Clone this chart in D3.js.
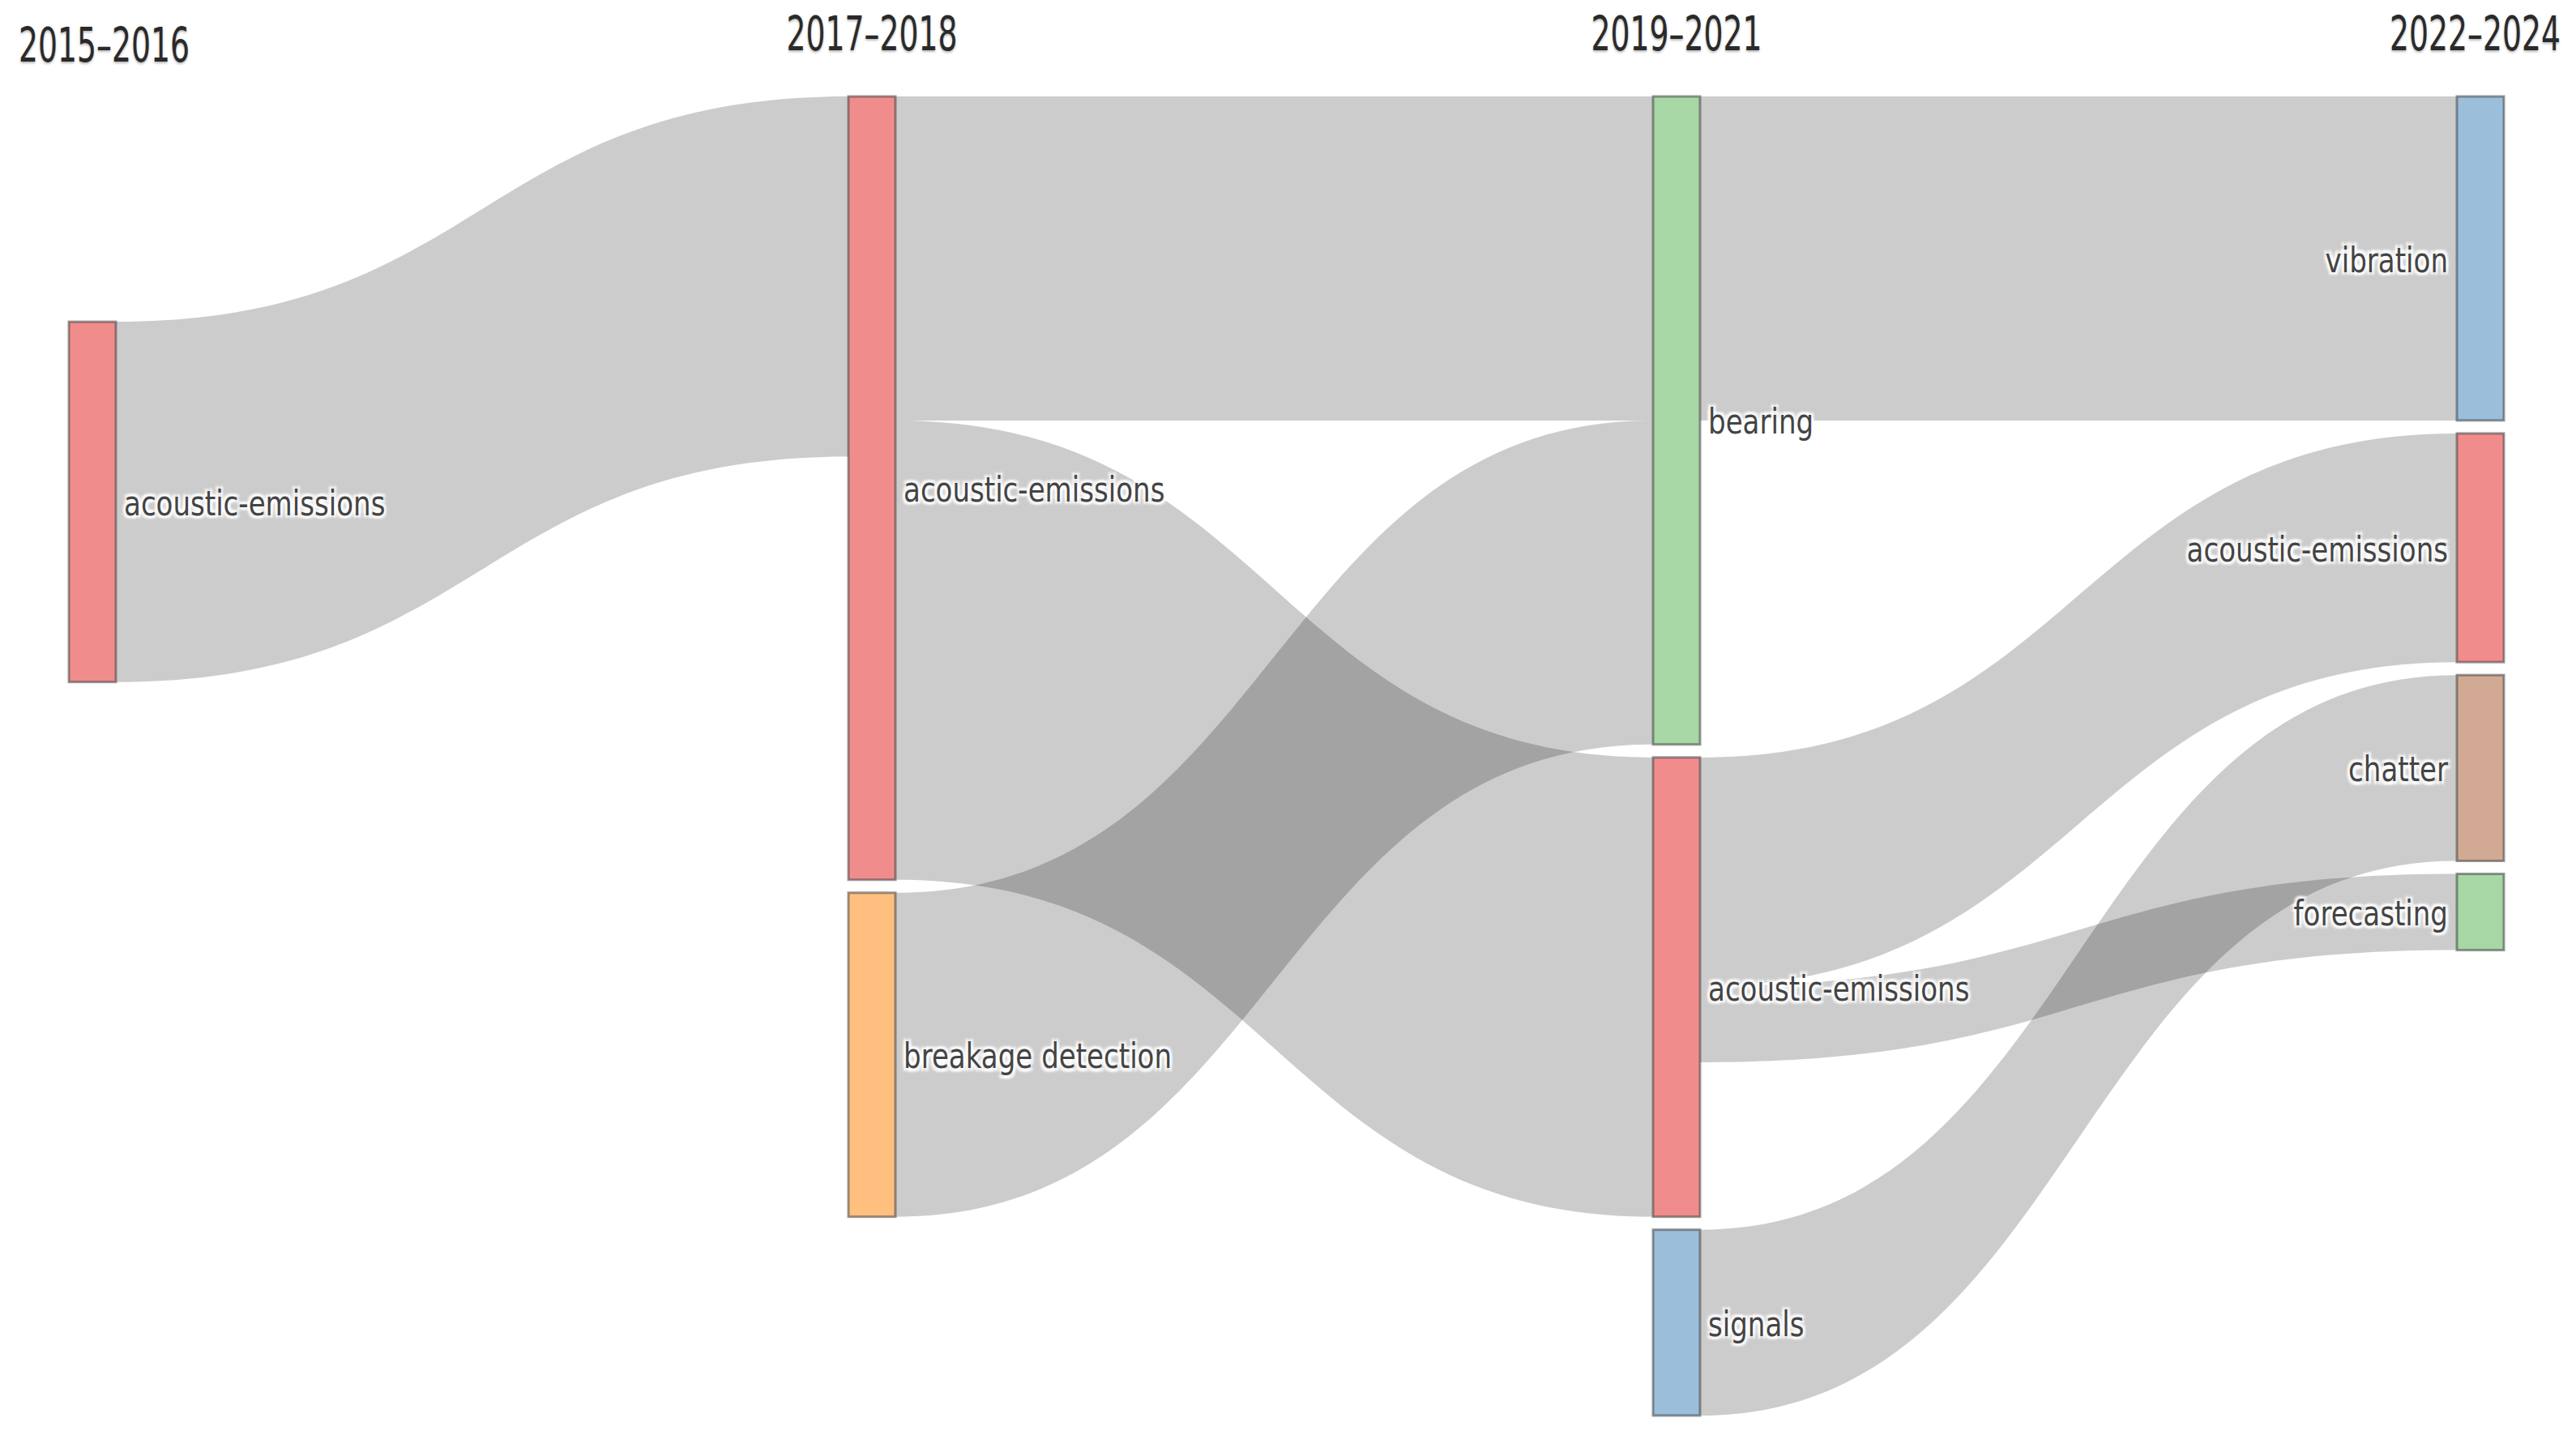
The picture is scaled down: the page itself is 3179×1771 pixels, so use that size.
<!DOCTYPE html>
<html>
<head>
<meta charset="utf-8">
<script src="https://cdn.jsdelivr.net/npm/d3@7"></script>
<style>
  html, body { margin: 0; padding: 0; background: #fff; }
  svg { display: block; }
  .lbl {
    font-family: "DejaVu Sans", sans-serif;
    fill: #444;
    text-shadow: 3px 3px 3px #fff, -3px -3px 3px #fff, 3px -3px 3px #fff, -3px 3px 3px #fff, 0 0 4px #fff;
  }
  .hdr {
    font-family: "DejaVu Sans", sans-serif;
    fill: #2a2a2a;
    text-shadow: 0 2px 3px rgba(0,0,0,0.28);
  }
</style>
</head>
<body>
<svg id="chart" width="3179" height="1771"></svg>
<script>
// ---------------- data ----------------
const periods     = ["2015–2016", "2017–2018", "2019–2021", "2022–2024"];
const nodeNames   = ["acoustic-emissions", "acoustic-emissions", "breakage detection",
                     "bearing", "acoustic-emissions", "signals",
                     "vibration", "acoustic-emissions", "chatter", "forecasting"];
const nodeColumns = [0, 1, 1, 2, 2, 2, 3, 3, 3, 3];
const nodeColors  = ["rgba(228,26,28,0.5)", "rgba(228,26,28,0.5)", "rgba(255,127,0,0.5)",
                     "rgba(77,175,74,0.5)", "rgba(228,26,28,0.5)", "rgba(55,126,184,0.5)",
                     "rgba(55,126,184,0.5)", "rgba(228,26,28,0.5)", "rgba(166,86,40,0.5)", "rgba(77,175,74,0.5)"];
const linkSources = [0, 1, 1, 2, 3, 4, 4, 5];
const linkTargets = [1, 3, 4, 3, 6, 7, 9, 8];
const linkValues  = [18.9, 17, 24.1, 17, 17, 12, 4, 9.75];

// ---------------- layout ----------------
const W = 3179, H = 1771;
const yTop = 119, yBottom = 1747;
const nodeW = 58, pad = 16;
const colX = d3.scaleOrdinal().domain([0, 1, 2, 3]).range([85, 1047, 2040, 3032]);

const nodes = nodeNames.map((name, i) => ({
  i, name, col: nodeColumns[i], color: nodeColors[i], sourceLinks: [], targetLinks: []
}));
const links = linkValues.map((v, i) => ({
  source: nodes[linkSources[i]], target: nodes[linkTargets[i]], value: v
}));
links.forEach(l => { l.source.sourceLinks.push(l); l.target.targetLinks.push(l); });
nodes.forEach(n => {
  n.value = Math.max(d3.sum(n.sourceLinks, l => l.value), d3.sum(n.targetLinks, l => l.value));
});

const columns = d3.groups(nodes, n => n.col).sort((a, b) => a[0] - b[0]).map(d => d[1]);
const ratio = d3.min(columns, col => (yBottom - yTop - (col.length - 1) * pad) / d3.sum(col, n => n.value));
const vScale = d3.scaleLinear().domain([0, 1]).range([0, ratio]);

columns.forEach(col => {
  let y = yTop;
  col.forEach(n => {
    n.y0 = y; n.y1 = y + vScale(n.value); y = n.y1 + pad;
  });
});

function assignLinkOffsets() {
  nodes.forEach(n => {
    n.sourceLinks.sort((a, b) => a.target.y0 - b.target.y0);
    n.targetLinks.sort((a, b) => a.source.y0 - b.source.y0);
    let y = n.y0;
    n.sourceLinks.forEach(l => { l.sy0 = y; y += vScale(l.value); l.sy1 = y; });
    y = n.y0;
    n.targetLinks.forEach(l => { l.ty0 = y; y += vScale(l.value); l.ty1 = y; });
  });
}
assignLinkOffsets();

columns[0].forEach(n => {
  const h = n.y1 - n.y0;
  const aligned = d3.sum(n.sourceLinks, l => l.ty0 * l.value) / d3.sum(n.sourceLinks, l => l.value);
  const centred = yTop + (yBottom - yTop - h) / 2;
  n.y0 = aligned + (centred - aligned) * 0.47;
  n.y1 = n.y0 + h;
});
assignLinkOffsets();

nodes.forEach(n => { n.x0 = colX(n.col); n.x1 = n.x0 + nodeW; });

// ---------------- drawing ----------------
const svg = d3.select("#chart");

function linkPath(l) {
  const x0 = l.source.x1, x1 = l.target.x0;
  const xi = d3.interpolateNumber(x0, x1);
  const xc0 = xi(0.5), xc1 = xi(0.5);
  const p = d3.path();
  p.moveTo(x0, l.sy0);
  p.bezierCurveTo(xc0, l.sy0, xc1, l.ty0, x1, l.ty0);
  p.lineTo(x1, l.ty1);
  p.bezierCurveTo(xc1, l.ty1, xc0, l.sy1, x0, l.sy1);
  p.closePath();
  return p.toString();
}

svg.append("g")
  .selectAll("path")
  .data(links)
  .join("path")
  .attr("d", linkPath)
  .attr("fill", "rgba(0,0,0,0.2)");

svg.append("g")
  .selectAll("rect")
  .data(nodes)
  .join("rect")
  .attr("x", d => d.x0)
  .attr("y", d => d.y0)
  .attr("width", d => d.x1 - d.x0)
  .attr("height", d => d.y1 - d.y0)
  .attr("fill", d => d.color)
  .attr("stroke", "rgba(68,68,68,0.55)")
  .attr("stroke-width", 3);

const lblSize = 42.6, lblSx = 0.80;
svg.append("g")
  .selectAll("text")
  .data(nodes)
  .join("text")
  .attr("class", "lbl")
  .attr("font-size", lblSize)
  .attr("text-anchor", d => d.col === 3 ? "end" : "start")
  .attr("dy", "0.39em")
  .attr("transform", d => {
    const x = d.col === 3 ? d.x0 - 11 : d.x1 + 10;
    const y = (d.y0 + d.y1) / 2;
    return `translate(${x},${y}) scale(${lblSx},1)`;
  })
  .text(d => d.name);

const hdrSize = 59, hdrSx = 0.64;
const hdrBase = [76, 62, 62, 62];
const hdr = svg.append("g")
  .selectAll("text")
  .data(periods)
  .join("text")
  .attr("class", "hdr")
  .attr("font-size", hdrSize)
  .attr("text-anchor", "middle")
  .text(d => d);
hdr.each(function (d, i) {
  const hw = this.getComputedTextLength() * hdrSx / 2;
  let cx = colX(i) + nodeW / 2;
  cx = Math.max(23 + hw, Math.min(W - 19 - hw, cx));
  d3.select(this).attr("transform", `translate(${cx},${hdrBase[i]}) scale(${hdrSx},1)`);
});
</script>
</body>
</html>
